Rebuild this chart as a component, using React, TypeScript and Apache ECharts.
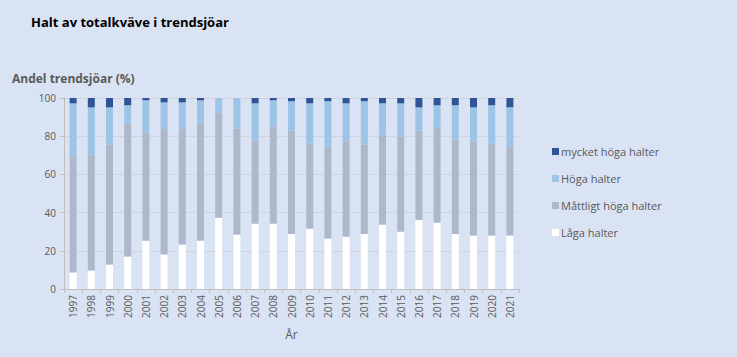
import React, { useEffect, useRef } from "react";
import * as echarts from "echarts";

const years = ["1997","1998","1999","2000","2001","2002","2003","2004","2005","2006","2007","2008","2009","2010","2011","2012","2013","2014","2015","2016","2017","2018","2019","2020","2021"];
const lagaHalter = [8.7, 9.7, 12.8, 17.0, 25.3, 18.1, 23.3, 25.3, 37.3, 28.5, 34.2, 34.2, 28.8, 31.6, 26.4, 27.4, 28.8, 33.7, 30.0, 36.1, 34.7, 28.8, 28.0, 28.0, 28.0];
const mattligtHoga = [60.8, 60.8, 62.7, 69.5, 56.6, 65.6, 60.4, 61.5, 54.7, 55.5, 43.6, 50.9, 54.2, 44.4, 48.3, 49.9, 46.9, 46.7, 49.9, 46.9, 49.7, 49.5, 49.3, 48.0, 46.7];
const hogaHalter = [27.7, 24.6, 19.6, 9.7, 16.9, 14.0, 14.0, 12.0, 8.0, 16.0, 19.4, 13.7, 15.3, 21.2, 23.6, 19.9, 22.6, 16.8, 17.3, 12.1, 11.8, 17.9, 17.8, 20.2, 20.4];
const mycketHoga = [2.8, 4.9, 4.9, 3.8, 1.2, 2.3, 2.3, 1.2, 0, 0, 2.8, 1.2, 1.7, 2.8, 1.7, 2.8, 1.7, 2.8, 2.8, 4.9, 3.8, 3.8, 4.9, 3.8, 4.9];
const yTicks = [0, 20, 40, 60, 80, 100];

const textColor = "#595959";
const font = "'Open Sans', sans-serif";

export default function App() {
  const ref = useRef<HTMLDivElement>(null);
  useEffect(() => {
    if (!ref.current) return;
    const chart = echarts.init(ref.current, undefined, { renderer: "svg" });
    const barW = 7;
    const mk = (name: string, data: number[], color: string) => ({
      name,
      type: "bar",
      stack: "total",
      data,
      barWidth: barW,
      itemStyle: { color },
      emphasis: { disabled: true },
    });
    chart.setOption({
      animation: false,
      backgroundColor: "#dae3f3",
      title: {
        text: "Halt av totalkväve i trendsjöar",
        left: 26,
        top: 10,
        textStyle: { fontFamily: font, fontSize: 13, fontWeight: "bold", color: "#000000" },
      },
      legend: {
        orient: "vertical",
        left: 547,
        top: 141,
        itemGap: 16,
        itemWidth: 7,
        itemHeight: 7,
        icon: "rect",
        data: ["mycket höga halter", "Höga halter", "Måttligt höga halter", "Låga halter"],
        textStyle: { fontFamily: font, fontSize: 11, color: textColor, padding: [0, 0, 0, -3] },
      },
      grid: { left: 64, right: 218, top: 98, bottom: 68, containLabel: false },
      xAxis: {
        type: "category",
        data: years,
        name: "År",
        nameLocation: "middle",
        nameGap: 39,
        nameTextStyle: { fontFamily: font, fontSize: 12, color: textColor },
        axisLine: { lineStyle: { color: "#bfbfbf" } },
        axisTick: { show: true, alignWithLabel: false, length: 4, lineStyle: { color: "#bfbfbf" } },
        axisLabel: { rotate: 90, fontFamily: font, fontSize: 10, color: textColor, margin: 6 },
      },
      yAxis: {
        type: "value",
        min: yTicks[0],
        max: yTicks[yTicks.length - 1],
        interval: 20,
        name: "Andel trendsjöar (%)",
        nameLocation: "end",
        nameGap: 14,
        nameTextStyle: { fontFamily: font, fontSize: 12, fontWeight: "bold", color: textColor, align: "left", padding: [0, 0, 0, -52] },
        axisLine: { show: true, lineStyle: { color: "#bfbfbf" } },
        axisTick: { show: true, length: 4, lineStyle: { color: "#bfbfbf" } },
        axisLabel: { fontFamily: font, fontSize: 10, color: textColor, margin: 8 },
        splitLine: { lineStyle: { color: "#cfd5de" } },
      },
      series: [
        mk("Låga halter", lagaHalter, "#ffffff"),
        mk("Måttligt höga halter", mattligtHoga, "#adb9ca"),
        mk("Höga halter", hogaHalter, "#9dc3e6"),
        mk("mycket höga halter", mycketHoga, "#2f5597"),
      ],
    });
    return () => chart.dispose();
  }, []);
  return <div ref={ref} style={{ position: "fixed", left: 0, top: 0, width: 737, height: 357 }} />;
}
